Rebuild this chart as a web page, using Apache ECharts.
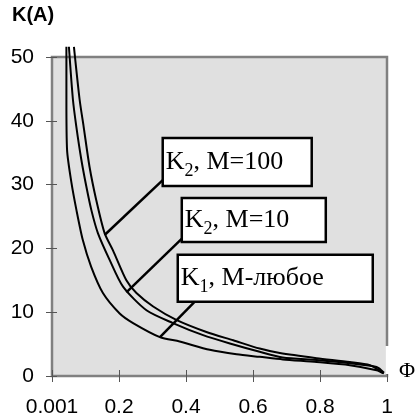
<!DOCTYPE html>
<html>
<head>
<meta charset="utf-8">
<script src="https://cdn.jsdelivr.net/npm/echarts@6/dist/echarts.min.js"></script>
<style>
html,body{margin:0;padding:0;background:#fff;}
#chart{width:417px;height:420px;}
</style>
</head>
<body>
<div id="chart"></div>
<script>
// Tick labels
const xTickLabels = ['0.001', '0.2', '0.4', '0.6', '0.8', '1'];
const yTickLabels = ['0', '10', '20', '30', '40', '50'];

// K1, M-любое (lowest curve)
const k1Phi = [0.043, 0.043, 0.045, 0.058, 0.073, 0.092, 0.117, 0.152, 0.202, 0.242, 0.322, 0.381, 0.471, 0.551, 0.620, 0.689, 0.790, 0.889, 0.969, 0.990];
const k1Val = [51.6, 43.3, 35.4, 30.3, 26.0, 21.3, 17.1, 13.0, 9.8, 8.3, 6.1, 5.4, 4.1, 3.4, 3.0, 2.6, 2.2, 1.7, 0.9, 0.4];

// K2, M=10 (middle curve)
const k2m10Phi = [0.0505, 0.0625, 0.0726, 0.0876, 0.1025, 0.1175, 0.137, 0.172, 0.212, 0.282, 0.361, 0.451, 0.531, 0.620, 0.689, 0.790, 0.889, 0.969, 0.991];
const k2m10Val = [51.6, 43.3, 39.1, 33.9, 29.7, 26.0, 22.4, 18.2, 14.0, 10.3, 8.3, 6.4, 5.1, 3.8, 2.9, 2.5, 2.0, 1.4, 0.5];

// K2, M=100 (top curve)
const k2m100Phi = [0.0655, 0.0825, 0.0944, 0.112, 0.132, 0.157, 0.182, 0.222, 0.252, 0.302, 0.371, 0.461, 0.541, 0.620, 0.680, 0.790, 0.889, 0.949, 0.990];
const k2m100Val = [51.6, 43.3, 39.1, 32.8, 27.6, 22.4, 19.7, 15.0, 13.0, 10.9, 8.8, 6.9, 5.6, 4.3, 3.6, 2.8, 2.2, 1.7, 0.4];

// Annotation leader lines (data coords: [phi, K])
const lead1 = [[0.3305, 30.7], [0.157, 22.1]];
const lead2 = [[0.387, 21.5], [0.222, 13.1]];
const lead3 = [[0.446, 12.7], [0.3216, 6.07]];

// Annotation labels and anchor (top-left corner, data coords)
const boxLabels = [
  { k: 'K', sub: '2', rest: ', M=100', at: [0.3305, 37.3] },
  { k: 'K', sub: '2', rest: ', M=10', at: [0.3874, 27.9] },
  { k: 'K', sub: '1', rest: ', M-любое', at: [0.3754, 19.0] }
];

function pairs(xs, ys) { return xs.map((x, i) => [x, ys[i]]); }

const chart = echarts.init(document.getElementById('chart'), null, { renderer: 'canvas' });

const axisGray = '#808080';
const tickGray = '#555555';
const sans = '"Liberation Sans", Arial, sans-serif';
const serif = '"Liberation Serif", "Times New Roman", serif';

function curve(name, data) {
  return {
    name: name, type: 'line', data: data, xAxisIndex: 0, yAxisIndex: 0,
    showSymbol: false, symbol: 'none', smooth: 0.25, clip: false,
    lineStyle: { color: '#000', width: 2 }, z: 3, silent: true
  };
}
function leader(data) {
  return {
    type: 'line', data: data, xAxisIndex: 0, yAxisIndex: 0,
    showSymbol: false, symbol: 'none', clip: false,
    lineStyle: { color: '#000', width: 2.5 }, z: 4, silent: true
  };
}

const option = {
  animation: false,
  backgroundColor: '#fff',
  grid: {
    left: 52, right: 30, top: 57, bottom: 44,
    show: true, backgroundColor: '#e0e0e0', borderColor: axisGray, borderWidth: 2.5
  },
  xAxis: [{
    type: 'value', min: 0, max: 1, interval: 0.2,
    axisLine: { show: true, onZero: false, lineStyle: { color: axisGray, width: 2 } },
    axisTick: { show: true, inside: false, length: 6, lineStyle: { color: tickGray, width: 1 } },
    splitLine: { show: false },
    axisLabel: {
      color: '#000', fontFamily: sans, fontSize: 21, margin: 21,
      formatter: v => xTickLabels[Math.round(v / 0.2)]
    }
  }, {
    type: 'value', min: 0, max: 1, interval: 0.2, position: 'bottom',
    axisLine: { show: false },
    axisTick: { show: true, inside: true, length: 6, lineStyle: { color: tickGray, width: 1 } },
    splitLine: { show: false }, axisLabel: { show: false }
  }],
  yAxis: [{
    type: 'value', min: 0, max: 50, interval: 10,
    axisLine: { show: true, onZero: false, lineStyle: { color: axisGray, width: 2 } },
    axisTick: { show: true, inside: false, length: 6, lineStyle: { color: tickGray, width: 1 } },
    splitLine: { show: false },
    axisLabel: {
      color: '#000', fontFamily: sans, fontSize: 21, margin: 18,
      formatter: v => yTickLabels[Math.round(v / 10)]
    }
  }, {
    type: 'value', min: 0, max: 50, interval: 10, position: 'left',
    axisLine: { show: false },
    axisTick: { show: true, inside: true, length: 5, lineStyle: { color: tickGray, width: 1 } },
    splitLine: { show: false }, axisLabel: { show: false }
  }],
  series: [
    curve('K1, M-любое', pairs(k1Phi, k1Val)),
    curve('K2, M=10', pairs(k2m10Phi, k2m10Val)),
    curve('K2, M=100', pairs(k2m100Phi, k2m100Val)),
    leader(lead1), leader(lead2), leader(lead3)
  ]
};
chart.setOption(option);

const boxSizes = [[149, 48], [144, 44], [195, 47]];
const graphics = [];
boxLabels.forEach((b, i) => {
  const p = chart.convertToPixel({ xAxisIndex: 0, yAxisIndex: 0 }, b.at);
  const w = boxSizes[i][0], h = boxSizes[i][1];
  graphics.push({
    type: 'rect', z: 10,
    shape: { x: p[0], y: p[1], width: w, height: h },
    style: { fill: '#fff', stroke: '#000', lineWidth: 2.5 }
  });
  graphics.push({
    type: 'text', z: 11,
    x: p[0] + 3, y: p[1] + h / 2,
    style: {
      text: '{n|' + b.k + '}{s|' + b.sub + '}{n|' + b.rest + '}',
      verticalAlign: 'middle', align: 'left',
      rich: {
        n: { fontFamily: serif, fontSize: 26, lineHeight: 30, fill: '#000', verticalAlign: 'middle' },
        s: { fontFamily: serif, fontSize: 18, lineHeight: 36, fill: '#000', verticalAlign: 'bottom' }
      }
    }
  });
});
// white patch at the right of the plot behind the axis name
graphics.push({ type: 'rect', z: 1, shape: { x: 385.5, y: 346, width: 32, height: 28 }, style: { fill: '#fff' } });
graphics.push({
  type: 'text', z: 11, x: 407, y: 371,
  style: { text: 'Φ', fontFamily: serif, fontSize: 22, fill: '#000', align: 'center', verticalAlign: 'middle' }
});
graphics.push({
  type: 'text', z: 11, x: 12, y: 5,
  style: { text: 'K(A)', fontFamily: sans, fontSize: 20, fontWeight: 'bold', fill: '#000', align: 'left', verticalAlign: 'top' }
});
chart.setOption({ graphic: graphics });
</script>
</body>
</html>
